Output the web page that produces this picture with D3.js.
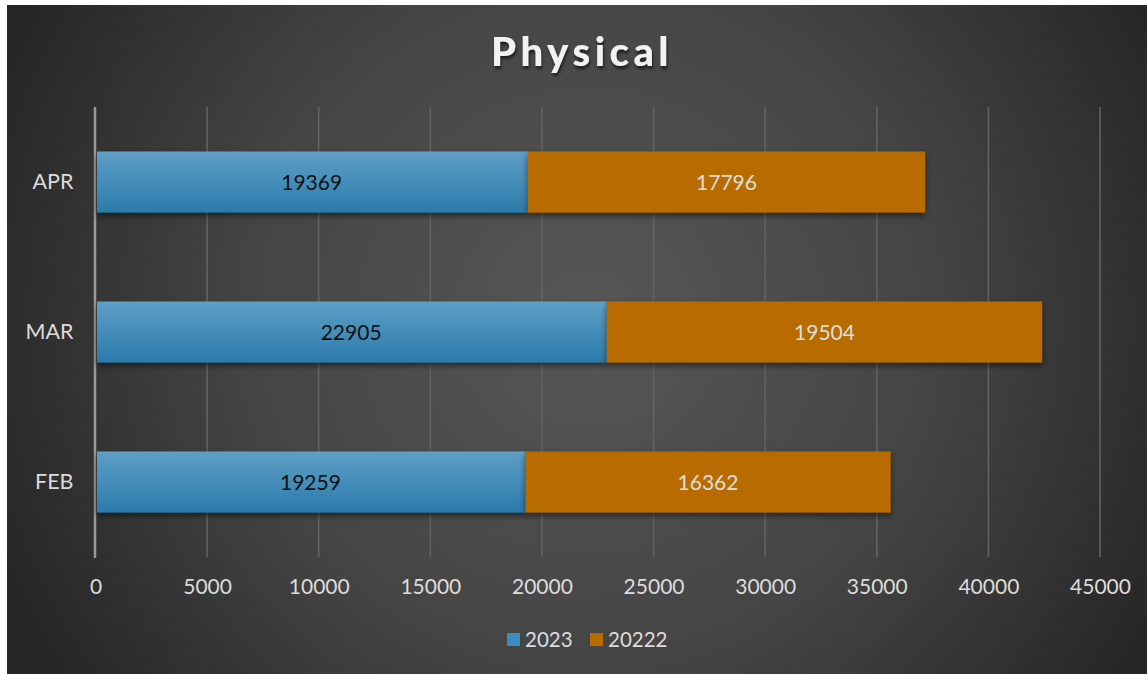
<!DOCTYPE html>
<html>
<head>
<meta charset="utf-8">
<script src="https://cdn.jsdelivr.net/npm/d3@7"></script>
<style>
html,body{margin:0;padding:0;background:#fff;}
svg{display:block;}
text{font-family:Lato,"Open Sans",sans-serif;}
</style>
</head>
<body>
<svg id="chart" width="1147" height="674"></svg>
<script>
const categories = ["FEB", "MAR", "APR"];
const seriesNames = ["2023", "20222"];
const values2023 = [19259, 22905, 19369];
const values20222 = [16362, 19504, 17796];
const tickValues = [0, 5000, 10000, 15000, 20000, 25000, 30000, 35000, 40000, 45000];
const title = "Physical";

const svg = d3.select("#chart");
const defs = svg.append("defs");

const bg = defs.append("radialGradient").attr("id", "bg")
  .attr("gradientUnits", "userSpaceOnUse")
  .attr("cx", 590).attr("cy", 320).attr("r", 640);
bg.append("stop").attr("offset", "0%").attr("stop-color", "#575757");
bg.append("stop").attr("offset", "55%").attr("stop-color", "#444444");
bg.append("stop").attr("offset", "100%").attr("stop-color", "#262626");

const blue = defs.append("linearGradient").attr("id", "blueGrad")
  .attr("x1", 0).attr("y1", 0).attr("x2", 0).attr("y2", 1);
blue.append("stop").attr("offset", "0%").attr("stop-color", "#5f9fc7");
blue.append("stop").attr("offset", "100%").attr("stop-color", "#2b7bab");

const shadow = defs.append("filter").attr("id", "shadow")
  .attr("x", "-5%").attr("y", "-30%").attr("width", "110%").attr("height", "170%");
shadow.append("feDropShadow").attr("dx", 0).attr("dy", 3).attr("stdDeviation", 3)
  .attr("flood-color", "#000").attr("flood-opacity", 0.55);

const tshadow = defs.append("filter").attr("id", "tshadow")
  .attr("x", "-10%").attr("y", "-30%").attr("width", "120%").attr("height", "170%");
tshadow.append("feDropShadow").attr("dx", 1).attr("dy", 3).attr("stdDeviation", 1.5)
  .attr("flood-color", "#000").attr("flood-opacity", 0.6);

svg.append("rect").attr("x", 7).attr("y", 5).attr("width", 1140).attr("height", 669)
  .attr("fill", "url(#bg)");

const x = d3.scaleLinear().domain([0, 45000]).range([95.5, 1100]);
const y = d3.scaleBand().domain(categories.slice().reverse()).range([107, 557])
  .paddingInner(0.593).paddingOuter(0.2965);

// gridlines
svg.append("g").selectAll("line").data(tickValues.filter(d => d > 0)).join("line")
  .attr("x1", d => x(d)).attr("x2", d => x(d))
  .attr("y1", 107).attr("y2", 557)
  .attr("stroke", "#626262").attr("stroke-width", 1.6);

// x axis labels
const xAxis = d3.axisBottom(x).tickValues(tickValues).tickSize(0).tickPadding(0).tickFormat(d3.format("d"));
const gx = svg.append("g").attr("transform", "translate(0,579)").call(xAxis);
gx.select(".domain").remove();
gx.selectAll("text").attr("fill", "#dcdcdc").attr("font-size", 21).attr("dy", "0.71em");

// y axis
const yAxis = d3.axisLeft(y).tickSize(0).tickPadding(22);
const gy = svg.append("g").attr("transform", "translate(95.5,0)").call(yAxis);
gy.select(".domain").remove();
gy.selectAll("text").attr("fill", "#dcdcdc").attr("font-size", 21.5);

svg.append("line").attr("x1", 95).attr("x2", 95).attr("y1", 107).attr("y2", 558)
  .attr("stroke", "#9a9a9a").attr("stroke-width", 2.5);

// stacked bars
const rows = categories.map((c, i) => ({cat: c, a: values2023[i], b: values20222[i]}));
const stack = d3.stack().keys(["a", "b"])(rows);
const fills = ["url(#blueGrad)", "#b86c00"];
const labelColors = ["#111111", "#dedede"];

stack.forEach((layer, li) => {
  const g = svg.append("g");
  g.selectAll("rect").data(layer).join("rect")
    .attr("x", d => x(d[0]) + (li === 0 ? 1.5 : 0))
    .attr("y", d => y(d.data.cat))
    .attr("width", d => x(d[1]) - x(d[0]) - (li === 0 ? 1.5 : 0))
    .attr("height", y.bandwidth())
    .attr("fill", fills[li])
    .attr("filter", "url(#shadow)");
});
stack.forEach((layer, li) => {
  svg.append("g").selectAll("text").data(layer).join("text")
    .attr("x", d => (x(d[0]) + x(d[1])) / 2)
    .attr("y", d => y(d.data.cat) + y.bandwidth() / 2)
    .attr("dy", "0.36em")
    .attr("text-anchor", "middle")
    .attr("font-size", 21)
    .attr("fill", labelColors[li])
    .text(d => d[1] - d[0]);
});

// title
svg.append("text").attr("x", 582).attr("y", 66).attr("text-anchor", "middle")
  .attr("font-size", 40).attr("font-weight", "900").attr("letter-spacing", 4.5)
  .attr("fill", "#f2f2f2").attr("filter", "url(#tshadow)").text(title);

// legend
const legendColors = ["#3c8cbd", "#b86c00"];
const legendX = [507, 590];
const lg = svg.append("g");
seriesNames.forEach((s, i) => {
  lg.append("rect").attr("x", legendX[i]).attr("y", 633).attr("width", 13).attr("height", 13)
    .attr("fill", legendColors[i]);
  lg.append("text").attr("x", legendX[i] + 18).attr("y", 647)
    .attr("font-size", 20.5).attr("fill", "#dcdcdc").text(s);
});
</script>
</body>
</html>
